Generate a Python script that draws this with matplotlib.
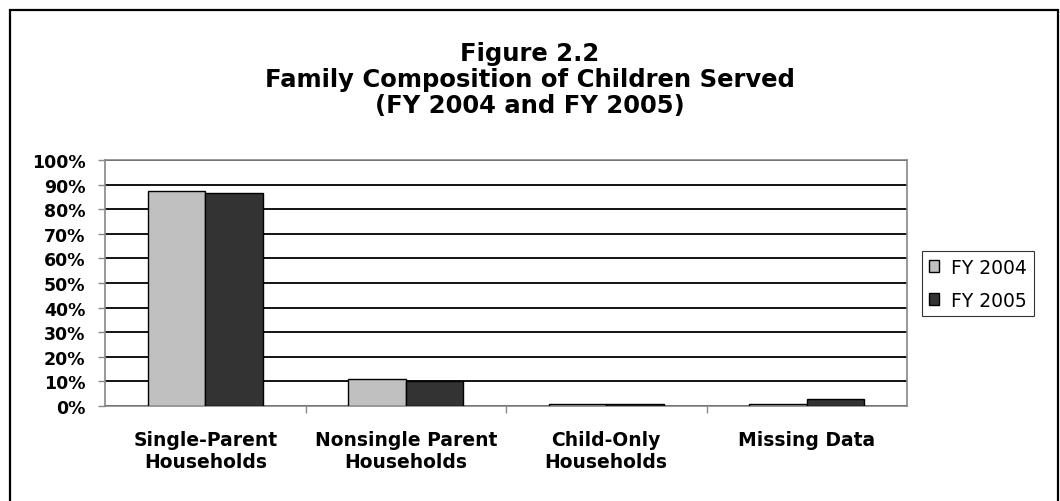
import numpy as np
import matplotlib.pyplot as plt
from matplotlib.patches import Rectangle
from matplotlib.ticker import FixedLocator

plt.rcParams['font.family'] = ['DejaVu Sans']

categories = ['Single-Parent\nHouseholds', 'Nonsingle Parent\nHouseholds',
              'Child-Only\nHouseholds', 'Missing Data']
fy2004 = [87.5, 10.9, 1.0, 1.0]
fy2005 = [86.4, 10.0, 1.0, 2.9]
series_names = ['FY 2004', 'FY 2005']
yticks = list(range(0, 101, 10))

fig = plt.figure(figsize=(10.6, 5.02), dpi=100)

# outer chart frame
fig.patches.append(Rectangle((10 / 1060, -0.05), 1048 / 1060, 1.05 - 11 / 502,
                             transform=fig.transFigure, fill=False,
                             edgecolor='black', linewidth=1.6))

ax = fig.add_axes([105 / 1060, 1 - 407 / 502, 802 / 1060, 246 / 502])

x = np.arange(len(categories))
w = 0.288
ax.bar(x - w / 2, fy2004, w, color='#c0c0c0', edgecolor='black',
       linewidth=1.0, label=series_names[0], zorder=3)
ax.bar(x + w / 2, fy2005, w, color='#333333', edgecolor='black',
       linewidth=1.0, label=series_names[1], zorder=3)

ax.set_xlim(-0.5, len(categories) - 0.5)
ax.set_ylim(0, 100)
ax.set_yticks(yticks)
ax.set_yticklabels([f'{v}%' for v in yticks], fontsize=12.5, fontweight='bold')
ax.yaxis.grid(True, color='black', linewidth=1.3, zorder=0)
ax.set_axisbelow(True)

ax.set_xticks(x)
ax.set_xticklabels(categories, fontsize=13.5, fontweight='bold', linespacing=1.2)
ax.xaxis.set_minor_locator(FixedLocator(np.arange(0.5, len(categories) - 1, 1)))
ax.tick_params(axis='x', which='major', length=0, pad=17)
ax.tick_params(axis='x', which='minor', length=5, color='#888888', width=1)
ax.tick_params(axis='y', length=5, color='#888888', width=1, pad=9)

for s in ax.spines.values():
    s.set_color('#888888')
    s.set_linewidth(1.2)

fig.text(0.5, 1 - 80 / 502, 'Figure 2.2\nFamily Composition of Children Served\n(FY 2004 and FY 2005)',
         ha='center', va='center', fontsize=17.5, fontweight='bold', linespacing=1.08)

leg = ax.legend(loc='upper left', bbox_to_anchor=(922 / 1060, 1 - 252 / 502),
                bbox_transform=fig.transFigure, fontsize=13.5, frameon=True,
                fancybox=False, edgecolor='black', handlelength=0.55,
                handleheight=0.55, handletextpad=0.65, borderpad=0.35,
                labelspacing=0.75, borderaxespad=0)
leg.get_frame().set_linewidth(0.8)

fig.savefig('out.png', dpi=100)
